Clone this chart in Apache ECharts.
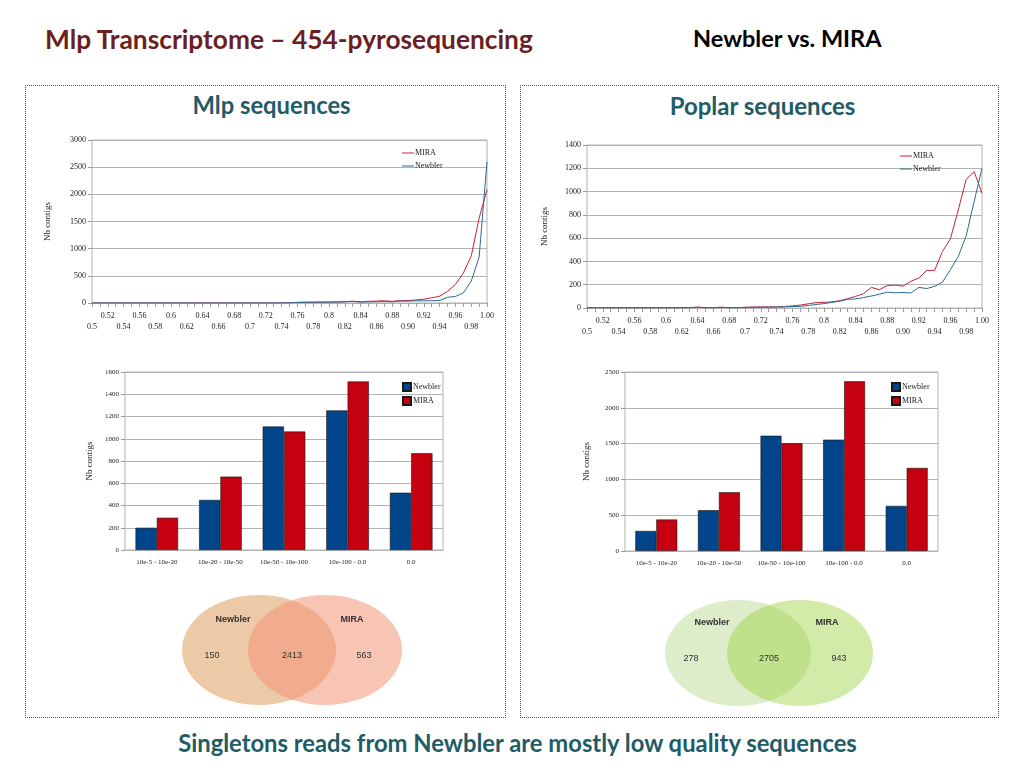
<!DOCTYPE html>
<html>
<head>
<meta charset="utf-8">
<script src="https://cdn.jsdelivr.net/npm/echarts@6/dist/echarts.min.js"></script>
<style>
  html, body { margin: 0; padding: 0; background: #fff; }
  #page { position: relative; width: 1024px; height: 768px; overflow: hidden; font-family: 'Lato', 'Open Sans', sans-serif; }
  .chart { position: absolute; left: 0; top: 0; width: 1024px; height: 768px; }
  .txt { position: absolute; font-weight: bold; white-space: nowrap; line-height: 1; }
  .panel { position: absolute; border: 1px dotted #555; box-sizing: border-box; }
</style>
</head>
<body>
<div id="page">
  <div class="panel" style="left:25px;top:85px;width:481px;height:633px;"></div>
  <div class="panel" style="left:520px;top:85px;width:479px;height:633px;"></div>
  <div class="txt" style="left:45px;top:26px;font-size:26.3px;color:#6b1f22;">Mlp Transcriptome – 454-pyrosequencing</div>
  <div class="txt" style="left:693px;top:27px;font-size:23.5px;color:#000;">Newbler vs. MIRA</div>
  <div class="txt" style="left:31px;width:481px;text-align:center;top:94px;font-size:23.8px;color:#1f5c66;">Mlp sequences</div>
  <div class="txt" style="left:523px;width:479px;text-align:center;top:94px;font-size:24px;color:#1f5c66;">Poplar sequences</div>
  <div class="txt" style="left:0;width:1035px;text-align:center;top:732px;font-size:23.8px;color:#1f5c66;">Singletons reads from Newbler are mostly low quality sequences</div>
  <div id="c1" class="chart"></div>
  <div id="c2" class="chart"></div>
  <div id="c3" class="chart"></div>
  <div id="c4" class="chart"></div>
  <div id="c5" class="chart"></div>
</div>
<script>
// identity ratio categories (x axis of the line charts)
const ratio = ['0.5','0.51','0.52','0.53','0.54','0.55','0.56','0.57','0.58','0.59',
  '0.6','0.61','0.62','0.63','0.64','0.65','0.66','0.67','0.68','0.69',
  '0.7','0.71','0.72','0.73','0.74','0.75','0.76','0.77','0.78','0.79',
  '0.8','0.81','0.82','0.83','0.84','0.85','0.86','0.87','0.88','0.89',
  '0.90','0.91','0.92','0.93','0.94','0.95','0.96','0.97','0.98','0.99','1.00'];

const mlpMira = [0,0,0,0,0,0,0,0,0,0, 0,0,0,0,0,0,0,0,0,0, 0,0,0,0,2,
  5,12,15,16,17, 18,20,25,32,20, 30,35,40,30,45, 45,55,70,95,125, 215,340,550,860,1560, 2090];
const mlpNewbler = [0,0,0,0,0,0,0,0,0,0, 0,0,0,0,0,0,0,0,0,0, 0,0,0,0,1,
  4,10,12,14,15, 16,18,22,28,18, 22,25,30,22,35, 35,40,40,42,45, 105,120,185,400,840, 2600];

const poplarMira = [2,2,2,2,2,2,2,2,2,2, 2,2,3,3,8,3,3,7,3,3, 6,8,9,9,10,
  12,18,25,36,46, 49,52,63,80,100, 123,177,157,192,197, 188,229,257,323,323, 486,594,843,1106,1171, 986];
const poplarNewbler = [1,1,1,1,1,1,1,1,1,1, 1,1,2,2,6,2,2,5,2,2, 5,6,7,7,8,
  10,13,14,22,30, 38,48,58,75,78, 90,103,118,136,130, 134,129,177,167,186, 222,329,443,620,914, 1200];

// blast e-value bins (bar charts)
const bins = ['10e-5 - 10e-20','10e-20 - 10e-50','10e-50 - 10e-100','10e-100 - 0.0','0.0'];
const mlpNewblerBins = [200,450,1110,1255,515];
const mlpMiraBins = [290,660,1065,1515,870];
const poplarNewblerBins = [280,570,1610,1555,630];
const poplarMiraBins = [440,820,1505,2370,1160];

// singletons overlap: [Newbler only, both, MIRA only]
const vennLabels = ['Newbler', 'MIRA'];
const mlpVenn = [150, 2413, 563];
const poplarVenn = [278, 2705, 943];

const serif = 'Liberation Serif';
const gridGrey = '#b3b3b3';

function lineOption(g, yMax, yStep, leg, mira, newbler, nameGap) {
  return {
    animation: false,
    grid: { left: g[0], top: g[1], width: g[2], height: g[3], show: true, borderColor: gridGrey, borderWidth: 1 },
    legend: {
      orient: 'vertical', left: leg[0], top: leg[1], icon: 'rect', itemWidth: 12, itemHeight: 1, itemGap: 3,
      textStyle: { fontFamily: serif, fontSize: 8, lineHeight: 10, color: '#222', padding: [0, 0, 0, -4] },
      data: ['MIRA', 'Newbler']
    },
    xAxis: {
      type: 'category', data: ratio, boundaryGap: false,
      axisLine: { lineStyle: { color: gridGrey } },
      axisTick: { interval: 0, length: 4, lineStyle: { color: '#999' } },
      axisLabel: {
        interval: 0, margin: 7, fontFamily: serif, fontSize: 8, color: '#222', lineHeight: 11,
        formatter: (v, i) => i % 4 === 2 ? v : (i % 4 === 0 ? '\n' + v : '')
      }
    },
    yAxis: {
      type: 'value', min: 0, max: yMax, interval: yStep,
      name: 'Nb contigs', nameLocation: 'middle', nameGap: nameGap,
      nameTextStyle: { fontFamily: serif, fontSize: 9, color: '#222' },
      axisLine: { show: false },
      axisTick: { show: true, length: 4, lineStyle: { color: '#999' } },
      axisLabel: { fontFamily: serif, fontSize: 8, color: '#222', margin: 6, formatter: v => String(v) },
      splitLine: { lineStyle: { color: gridGrey } }
    },
    series: [
      { name: 'MIRA', type: 'line', data: mira, symbol: 'none', lineStyle: { width: 1, color: '#c8203c' }, itemStyle: { color: '#c8203c' } },
      { name: 'Newbler', type: 'line', data: newbler, symbol: 'none', lineStyle: { width: 1, color: '#2c6a93' }, itemStyle: { color: '#2c6a93' } }
    ]
  };
}

function barOption(g, yMax, yStep, leg, newbler, mira, nameGap) {
  return {
    animation: false,
    grid: { left: g[0], top: g[1], width: g[2], height: g[3], show: true, borderColor: gridGrey, borderWidth: 1 },
    legend: {
      orient: 'vertical', left: leg[0], top: leg[1], itemWidth: 8, itemHeight: 8, itemGap: 4, icon: 'rect',
      textStyle: { fontFamily: serif, fontSize: 8, color: '#222', padding: [0, 0, 0, -3] },
      data: ['Newbler', 'MIRA']
    },
    xAxis: {
      type: 'category', data: bins,
      axisLine: { lineStyle: { color: gridGrey } },
      axisTick: { show: false },
      axisLabel: { interval: 0, margin: 9, fontFamily: serif, fontSize: 7, color: '#222' }
    },
    yAxis: {
      type: 'value', min: 0, max: yMax, interval: yStep,
      name: 'Nb contigs', nameLocation: 'middle', nameGap: nameGap,
      nameTextStyle: { fontFamily: serif, fontSize: 9, color: '#222' },
      axisLine: { show: false },
      axisTick: { show: true, length: 4, lineStyle: { color: '#999' } },
      axisLabel: { fontFamily: serif, fontSize: 7, color: '#222', margin: 6, formatter: v => String(v) },
      splitLine: { lineStyle: { color: gridGrey } }
    },
    series: [
      { name: 'Newbler', type: 'bar', data: newbler, barGap: '0%', barCategoryGap: '33%',
        itemStyle: { color: '#00448a', borderColor: '#1a1a1a', borderWidth: 0.6 } },
      { name: 'MIRA', type: 'bar', data: mira,
        itemStyle: { color: '#c5000f', borderColor: '#1a1a1a', borderWidth: 0.6 } }
    ]
  };
}

function vennGraphics(cx, cy, rx, ry, dx, leftFill, rightFill, counts) {
  const label = (x, y, text, bold) => ({
    type: 'text', x: x, y: y,
    style: { text: text, fill: '#333', font: (bold ? 'bold ' : '') + '9px "Liberation Sans", Arial, sans-serif', align: 'center', verticalAlign: 'middle' }
  });
  return [
    { type: 'circle', x: cx - dx, y: cy, scaleY: ry / rx, shape: { cx: 0, cy: 0, r: rx }, style: { fill: leftFill } },
    { type: 'circle', x: cx + dx, y: cy, scaleY: ry / rx, shape: { cx: 0, cy: 0, r: rx }, style: { fill: rightFill } },
    label(cx - dx - 26, cy - 30, vennLabels[0], true),
    label(cx + dx + 27, cy - 30, vennLabels[1], true),
    label(cx - dx - 47, cy + 6, String(counts[0]), false),
    label(cx, cy + 6, String(counts[1]), false),
    label(cx + dx + 39, cy + 6, String(counts[2]), false)
  ];
}

echarts.init(document.getElementById('c1')).setOption(
  lineOption([92, 140, 395, 163], 3000, 500, [397, 143], mlpMira, mlpNewbler, 40));
echarts.init(document.getElementById('c2')).setOption(
  lineOption([587, 145, 395, 163], 1400, 200, [895, 146], poplarMira, poplarNewbler, 38));
echarts.init(document.getElementById('c3')).setOption(
  barOption([125, 372, 318, 178], 1600, 200, [397, 377], mlpNewblerBins, mlpMiraBins, 31));
echarts.init(document.getElementById('c4')).setOption(
  barOption([625, 372, 313, 179], 2500, 500, [886, 377], poplarNewblerBins, poplarMiraBins, 34));
echarts.init(document.getElementById('c5')).setOption({
  animation: false,
  graphic: [].concat(
    vennGraphics(292, 650, 77, 55, 33, '#edcaa7', 'rgba(242,148,119,0.55)', mlpVenn),
    vennGraphics(769, 653, 73, 53, 31, '#ddedc9', 'rgba(155,211,64,0.45)', poplarVenn)
  )
});
</script>
</body>
</html>
